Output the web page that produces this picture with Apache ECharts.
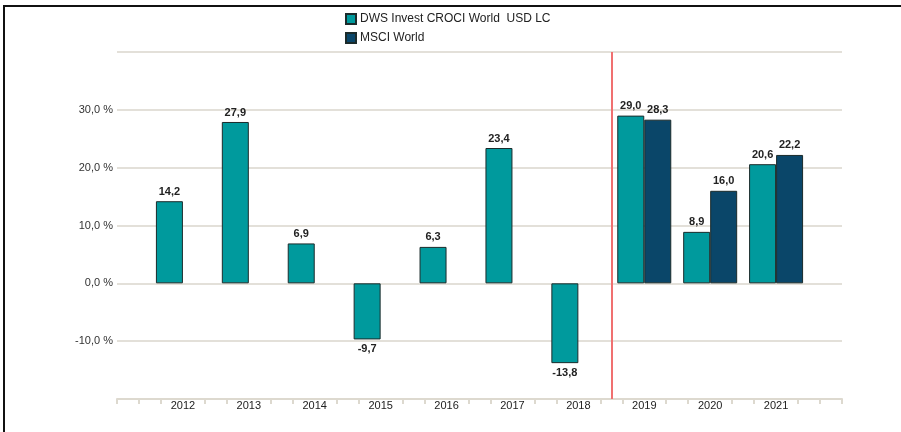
<!DOCTYPE html>
<html>
<head>
<meta charset="utf-8">
<script src="https://cdn.jsdelivr.net/npm/echarts@6/dist/echarts.min.js"></script>
<style>
  html, body { margin: 0; padding: 0; background: #fff; }
  #frame { position: absolute; left: 3px; top: 5px; width: 898px; height: 427px;
           border-top: 2px solid #111; border-left: 2px solid #111; }
  #chart { position: absolute; left: 0; top: 0; width: 901px; height: 432px; }
</style>
</head>
<body>
<div id="frame"></div>
<div id="chart"></div>
<script>
// Jahre (leere Positionen links und rechts wie im Original)
const years = ['', '2012', '2013', '2014', '2015', '2016', '2017', '2018', '2019', '2020', '2021', '']
const dwsValues = [null, 14.2, 27.9, 6.9, -9.7, 6.3, 23.4, -13.8, 29.0, 8.9, 20.6, null]
const msciValues = [null, null, null, null, null, null, null, null, 28.3, 16.0, 22.2, null]
const seriesNames = ['DWS Invest CROCI World  USD LC', 'MSCI World']
const seriesColors = ['#009a9d', '#0a4669']
// Teilstriche der x-Achse: drei pro Jahr, an beschrifteten Jahren ausgelassen
const tickSteps = [0, 1, 2, 4, 5, 7, 8, 10, 11, 13, 14, 16, 17, 19, 20, 22, 23, 25, 26, 28, 29, 31, 32, 33]
const dividerAt = 22.5 // zwischen 2018 und 2019

const fmt = v => v.toFixed(1).replace('.', ',')

function toBarData(values) {
  return values.map(v => {
    if (v === null) return null
    return { value: v, label: { position: v < 0 ? 'bottom' : 'top' } }
  })
}

const chart = echarts.init(document.getElementById('chart'))

const barLabel = {
  show: true,
  formatter: p => fmt(p.value),
  fontSize: 11,
  fontWeight: 'bold',
  color: '#222',
  distance: 4,
  fontFamily: 'Liberation Sans',
}

chart.setOption({
  animation: false,
  textStyle: { fontFamily: 'Liberation Sans' },
  legend: {
    data: seriesNames,
    orient: 'vertical',
    left: 340,
    top: 8,
    itemWidth: 10,
    itemHeight: 10,
    itemGap: 7,
    icon: 'rect',
    textStyle: { fontSize: 12, color: '#222', padding: [0, 0, 0, -1] },
  },
  grid: { left: 117, right: 59, top: 52, bottom: 33 },
  xAxis: [
    {
      type: 'category',
      data: years,
      boundaryGap: false,
      axisLine: { show: false },
      axisTick: { show: false },
      axisLabel: { fontSize: 11, color: '#222', margin: 1, interval: 0 },
    },
    {
      type: 'value',
      min: 0,
      max: 33,
      position: 'bottom',
      axisLine: { show: true, lineStyle: { color: '#ddd9cf', width: 2 } },
      axisTick: { show: true, customValues: tickSteps, length: 5, lineStyle: { color: '#ddd9cf', width: 2 } },
      axisLabel: { show: false },
      splitLine: { show: false },
    },
  ],
  yAxis: {
    type: 'value',
    min: -20,
    max: 40,
    interval: 10,
    axisLine: { show: false },
    axisTick: { show: false },
    axisLabel: {
      fontSize: 11,
      color: '#333',
      margin: 4,
      formatter: v => (v === 40 || v === -20) ? '' : fmt(v) + ' %',
    },
    splitLine: { lineStyle: { color: '#e3e0d9', width: 2 } },
  },
  series: [
    {
      name: seriesNames[0],
      type: 'bar',
      data: toBarData(dwsValues),
      barWidth: 27,
      barGap: '0%',
      itemStyle: { color: seriesColors[0], borderColor: '#1b2b2b', borderWidth: 1 },
      label: barLabel,
    },
    {
      name: seriesNames[1],
      type: 'bar',
      data: toBarData(msciValues),
      barWidth: 27,
      barGap: '0%',
      itemStyle: { color: seriesColors[1], borderColor: '#1b2b2b', borderWidth: 1 },
      label: barLabel,
    },
    {
      type: 'line',
      xAxisIndex: 1,
      data: [],
      silent: true,
      markLine: {
        symbol: 'none',
        silent: true,
        label: { show: false },
        lineStyle: { color: '#f07070', width: 2, type: 'solid' },
        data: [{ xAxis: dividerAt }],
      },
    },
  ],
})
</script>
</body>
</html>
